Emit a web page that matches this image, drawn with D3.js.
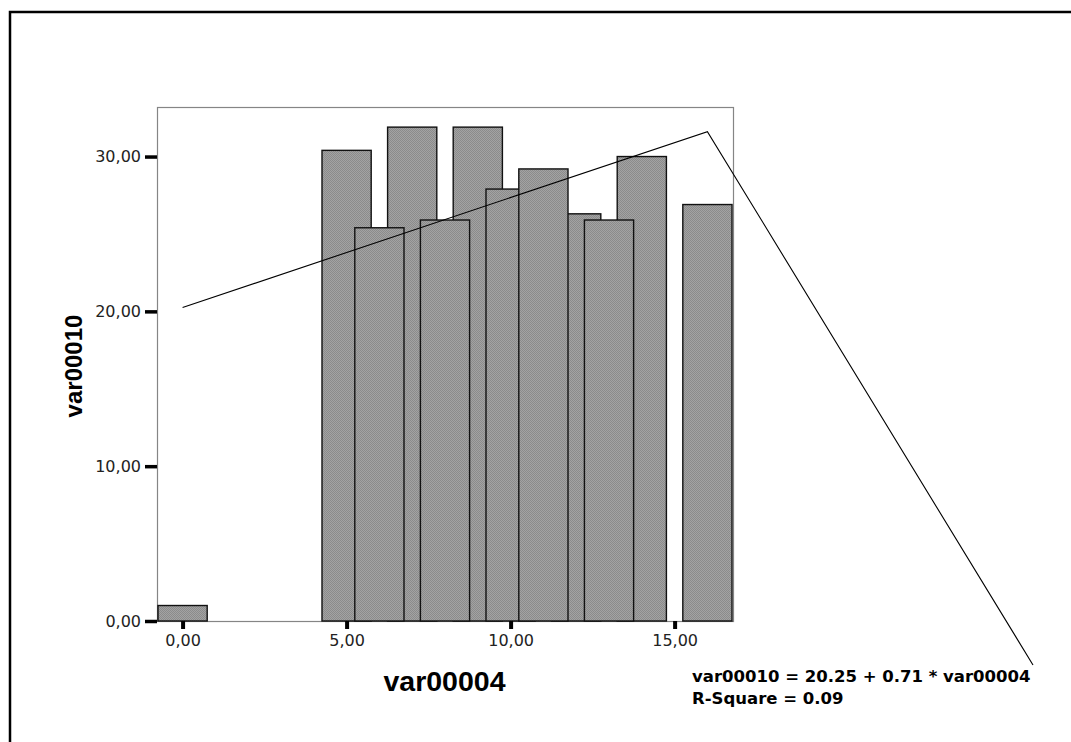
<!DOCTYPE html>
<html>
<head>
<meta charset="utf-8">
<script src="https://cdn.jsdelivr.net/npm/d3@7"></script>
<style>
	body { margin: 0; background: #fff; }
	svg { display: block; }
	.tick text { font-family: "DejaVu Sans", sans-serif; font-size: 16px; fill: #222; }
	.axis-title { font-family: "Liberation Sans", Arial, sans-serif; font-weight: bold; fill: #000; }
	.note { font-family: "DejaVu Sans", sans-serif; font-weight: bold; font-size: 16.5px; fill: #000; }
</style>
</head>
<body>
<svg></svg>
<script>
//Data (bars listed in the order they are painted, later ones sit on top)
let barX = [5, 7, 9, 12, 14, 10, 6, 8, 11, 13, 0, 16]
let barY = [30.4, 31.9, 31.9, 26.3, 30.0, 27.9, 25.4, 25.9, 29.2, 25.9, 1.0, 26.9]
let xTicks = [0, 5, 10, 15]
let yTicks = [0, 10, 20, 30]
let fitIntercept = 20.25
let fitSlope = 0.71
let fitRange = [0, 16]
let noteLines = ["var00010 = 20.25 + 0.71 * var00004", "R-Square = 0.09"]
let xTitle = "var00004"
let yTitle = "var00010"

//Base SVG values
let width = 1071
let height = 742
let plot = {left: 157, top: 107, right: 733, bottom: 621}
let barHalf = 0.75

let svg = d3.select("svg")
	.attr("width", width)
	.attr("height", height)

//Dithered grey fill
let pat = svg.append("defs").append("pattern")
	.attr("id", "dither")
	.attr("width", 2).attr("height", 2)
	.attr("patternUnits", "userSpaceOnUse")
pat.append("rect").attr("width", 2).attr("height", 2).attr("fill", "#a3a3a3")
pat.append("rect").attr("width", 1).attr("height", 1).attr("fill", "#8b8b8b")
pat.append("rect").attr("x", 1).attr("y", 1).attr("width", 1).attr("height", 1).attr("fill", "#8b8b8b")

//Scales
let xScale = d3.scaleLinear()
	.domain([-0.78, 16.78])
	.range([plot.left, plot.right])
let yScale = d3.scaleLinear()
	.domain([0, 33.2])
	.range([plot.bottom, plot.top])

let comma = d3.formatLocale({decimal: ",", thousands: ".", grouping: [3], currency: ["", ""]}).format(".2f")

//Outer frame (left and top edges only)
svg.append("path")
	.attr("d", `M10,${height} V12 H${width}`)
	.attr("fill", "none")
	.attr("stroke", "#000")
	.attr("stroke-width", 2.5)

//Plot box
svg.append("rect")
	.attr("x", plot.left + 0.5)
	.attr("y", plot.top + 0.5)
	.attr("width", plot.right - plot.left)
	.attr("height", plot.bottom - plot.top)
	.attr("fill", "#fff")
	.attr("stroke", "#858585")
	.attr("stroke-width", 1.2)

//Bars
svg.append("g")
	.selectAll("rect")
	.data(barX)
	.enter()
	.append("rect")
		.attr("x", d => xScale(d - barHalf))
		.attr("y", (d, i) => yScale(barY[i]))
		.attr("width", d => xScale(d + barHalf) - xScale(d - barHalf))
		.attr("height", (d, i) => yScale(0) - yScale(barY[i]))
		.attr("fill", "url(#dither)")
		.attr("stroke", "#111")
		.attr("stroke-width", 1.4)

//Axes
let axisL = d3.axisLeft(yScale)
	.tickValues(yTicks)
	.tickFormat(comma)
	.tickSize(12)
	.tickPadding(4)
let axisB = d3.axisBottom(xScale)
	.tickValues(xTicks)
	.tickFormat(comma)
	.tickSize(8)
	.tickPadding(6)

let gl = svg.append("g")
	.attr("transform", `translate(${plot.left},0)`)
	.call(axisL)
gl.select(".domain").remove()
gl.selectAll(".tick line").attr("stroke", "#000").attr("stroke-width", 3.5)

let gb = svg.append("g")
	.attr("transform", `translate(0,${plot.bottom})`)
	.call(axisB)
gb.select(".domain").remove()
gb.selectAll(".tick line").attr("stroke", "#000").attr("stroke-width", 4)

//Fit line and leader to the note
let fitPts = fitRange.map(x => [xScale(x), yScale(fitIntercept + fitSlope * x)])
let noteAnchor = [1033, 665]
svg.append("path")
	.attr("d", d3.line()(fitPts.concat([noteAnchor])))
	.attr("fill", "none")
	.attr("stroke", "#000")
	.attr("stroke-width", 1.1)

//Note text
svg.append("g")
	.selectAll("text")
	.data(noteLines)
	.enter()
	.append("text")
		.attr("class", "note")
		.attr("x", 692)
		.attr("y", (d, i) => 682 + i * 21.5)
		.text(d => d)

//Axis titles
svg.append("text")
	.attr("class", "axis-title")
	.attr("x", (plot.left + plot.right) / 2 - 0.5)
	.attr("y", 691)
	.style("font-size", "28.5px")
	.style("text-anchor", "middle")
	.text(xTitle)

svg.append("text")
	.attr("class", "axis-title")
	.attr("transform", "translate(82,366) rotate(-90)")
	.style("font-size", "24px")
	.style("text-anchor", "middle")
	.text(yTitle)
</script>
</body>
</html>
